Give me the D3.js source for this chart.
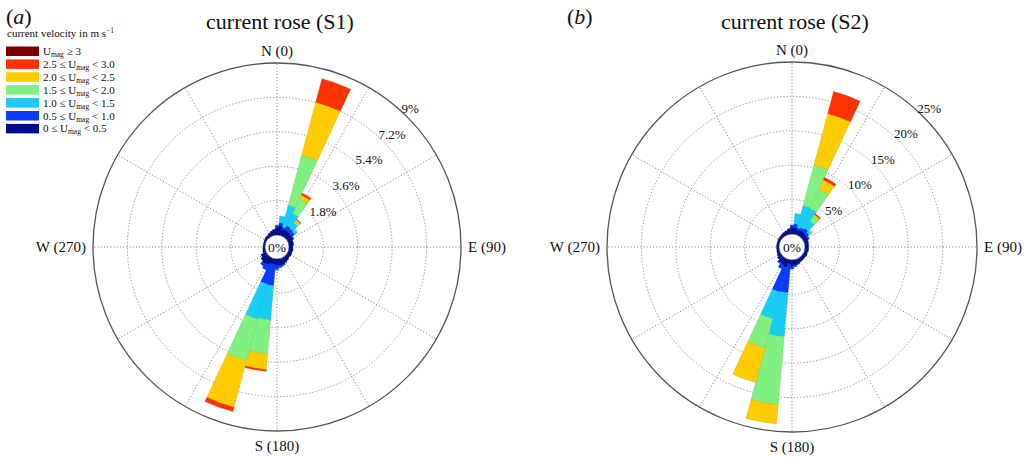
<!DOCTYPE html>
<html>
<head>
<meta charset="utf-8">
<script src="https://cdn.jsdelivr.net/npm/d3@7"></script>
<style>
  html, body { margin: 0; padding: 0; background: #fff; }
  svg { display: block; font-family: "Liberation Serif", "Times New Roman", serif; }
</style>
</head>
<body>
<svg id="chart" width="1030" height="457"></svg>
<script>
// Direction bins (degrees clockwise from north, 10-degree sectors)
const directions = d3.range(0, 360, 10);

// Speed classes, lowest first (stacked outward from the centre)
const classColors = ["#000a8c", "#0a3cff", "#1acdf5", "#80f080", "#ffcc00", "#ff3300", "#7a0000"];
const legendLabels = [
  ["", "U", "mag", " \u2265 3"],
  ["2.5 \u2264 ", "U", "mag", " < 3.0"],
  ["2.0 \u2264 ", "U", "mag", " < 2.5"],
  ["1.5 \u2264 ", "U", "mag", " < 2.0"],
  ["1.0 \u2264 ", "U", "mag", " < 1.5"],
  ["0.5 \u2264 ", "U", "mag", " < 1.0"],
  ["0 \u2264 ", "U", "mag", " < 0.5"]
];
const legendColors = ["#7a0000", "#ff3300", "#ffcc00", "#80f080", "#1acdf5", "#0a3cff", "#000a8c"];

// Frequency (%) per direction bin, one column per speed class
// [0-0.5, 0.5-1.0, 1.0-1.5, 1.5-2.0, 2.0-2.5, 2.5-3.0, >=3]
const freqS1 = [
  [0.40, 0.10, 0, 0, 0, 0, 0],          // 0
  [0.50, 0.15, 0.35, 0, 0, 0, 0],       // 10
  [0.35, 0.10, 1.20, 2.69, 2.88, 1.26, 0], // 20
  [0.35, 0.25, 0.70, 0.85, 0.23, 0.10, 0], // 30
  [0.35, 0.20, 0.35, 0.15, 0.07, 0.03, 0], // 40
  [0.30, 0.20, 0.15, 0.08, 0, 0, 0],    // 50
  [0.30, 0.05, 0, 0, 0, 0, 0],          // 60
  [0.25, 0, 0, 0, 0, 0, 0],             // 70
  [0.25, 0, 0, 0, 0, 0, 0],             // 80
  [0.20, 0, 0, 0, 0, 0, 0],             // 90
  [0.22, 0, 0, 0, 0, 0, 0],             // 100
  [0.20, 0, 0, 0, 0, 0, 0],             // 110
  [0.22, 0, 0, 0, 0, 0, 0],             // 120
  [0.20, 0, 0, 0, 0, 0, 0],             // 130
  [0.25, 0, 0, 0, 0, 0, 0],             // 140
  [0.30, 0, 0, 0, 0, 0, 0],             // 150
  [0.35, 0.05, 0, 0, 0, 0, 0],          // 160
  [0.35, 0.10, 0, 0, 0, 0, 0],          // 170
  [0.35, 0.20, 0.05, 0, 0, 0, 0],       // 180
  [0.30, 1.11, 1.80, 1.79, 0.82, 0.08, 0], // 190
  [0.30, 1.08, 1.89, 2.25, 2.54, 0.23, 0], // 200
  [0.40, 0.30, 0, 0, 0, 0, 0],          // 210
  [0.45, 0.15, 0, 0, 0, 0, 0],          // 220
  [0.40, 0, 0, 0, 0, 0, 0],             // 230
  [0.30, 0, 0, 0, 0, 0, 0],             // 240
  [0.15, 0, 0, 0, 0, 0, 0],             // 250
  [0.12, 0, 0, 0, 0, 0, 0],             // 260
  [0.10, 0, 0, 0, 0, 0, 0],             // 270
  [0.10, 0, 0, 0, 0, 0, 0],             // 280
  [0.10, 0, 0, 0, 0, 0, 0],             // 290
  [0.12, 0, 0, 0, 0, 0, 0],             // 300
  [0.15, 0, 0, 0, 0, 0, 0],             // 310
  [0.15, 0, 0, 0, 0, 0, 0],             // 320
  [0.20, 0, 0, 0, 0, 0, 0],             // 330
  [0.25, 0, 0, 0, 0, 0, 0],             // 340
  [0.30, 0, 0, 0, 0, 0, 0]              // 350
];

const freqS2 = [
  [1.00, 0.30, 0, 0, 0, 0, 0],          // 0
  [1.00, 0.50, 1.50, 0, 0, 0, 0],       // 10
  [0.70, 0.30, 3.40, 6.05, 7.75, 3.30, 0], // 20
  [0.80, 0.40, 3.10, 3.10, 1.50, 0.34, 0], // 30
  [0.80, 0.60, 1.30, 0.90, 0.25, 0.15, 0], // 40
  [0.70, 0.40, 0.40, 0.30, 0, 0, 0],    // 50
  [0.70, 0.20, 0, 0, 0, 0, 0],          // 60
  [0.60, 0, 0, 0, 0, 0, 0],             // 70
  [0.55, 0, 0, 0, 0, 0, 0],             // 80
  [0.50, 0, 0, 0, 0, 0, 0],             // 90
  [0.55, 0, 0, 0, 0, 0, 0],             // 100
  [0.50, 0, 0, 0, 0, 0, 0],             // 110
  [0.55, 0, 0, 0, 0, 0, 0],             // 120
  [0.50, 0, 0, 0, 0, 0, 0],             // 130
  [0.55, 0, 0, 0, 0, 0, 0],             // 140
  [0.60, 0, 0, 0, 0, 0, 0],             // 150
  [0.70, 0.10, 0, 0, 0, 0, 0],          // 160
  [0.80, 0.20, 0, 0, 0, 0, 0],          // 170
  [0.90, 0.40, 0, 0, 0, 0, 0],          // 180
  [0.60, 4.20, 6.40, 9.90, 2.80, 0, 0], // 190
  [1.20, 3.70, 4.00, 4.40, 5.20, 0, 0], // 200
  [1.00, 0.60, 0, 0, 0, 0, 0],          // 210
  [0.90, 0.20, 0, 0, 0, 0, 0],          // 220
  [0.70, 0, 0, 0, 0, 0, 0],             // 230
  [0.50, 0, 0, 0, 0, 0, 0],             // 240
  [0.40, 0, 0, 0, 0, 0, 0],             // 250
  [0.35, 0, 0, 0, 0, 0, 0],             // 260
  [0.35, 0, 0, 0, 0, 0, 0],             // 270
  [0.35, 0, 0, 0, 0, 0, 0],             // 280
  [0.35, 0, 0, 0, 0, 0, 0],             // 290
  [0.40, 0, 0, 0, 0, 0, 0],             // 300
  [0.40, 0, 0, 0, 0, 0, 0],             // 310
  [0.45, 0, 0, 0, 0, 0, 0],             // 320
  [0.50, 0, 0, 0, 0, 0, 0],             // 330
  [0.60, 0, 0, 0, 0, 0, 0],             // 340
  [0.80, 0, 0, 0, 0, 0, 0]              // 350
];

// Radial tick values and their labels
const ticksS1 = [1.8, 3.6, 5.4, 7.2, 9];
const tickLabelsS1 = ["1.8%", "3.6%", "5.4%", "7.2%", "9%"];
const ticksS2 = [5, 10, 15, 20, 25];
const tickLabelsS2 = ["5%", "10%", "15%", "20%", "25%"];

const compassLabels = ["N (0)", "E (90)", "S (180)", "W (270)"];

const svg = d3.select("#chart");
const rad = d => d * Math.PI / 180;

function drawRose(opts) {
  const { cx, cy, R, r0, ticks, tickLabels, freq, title, tag, tagX } = opts;
  const g = svg.append("g").attr("transform", `translate(${cx},${cy})`);
  const r = d3.scaleLinear().domain([0, d3.max(ticks)]).range([r0, R]);

  // dotted rings
  g.selectAll("circle.ring")
    .data(ticks.slice(0, -1))
    .join("circle")
    .attr("r", d => r(d))
    .attr("fill", "none")
    .attr("stroke", "#8a8a8a")
    .attr("stroke-width", 1)
    .attr("stroke-dasharray", "1.2,2");

  // dotted spokes every 30 degrees
  g.selectAll("line.spoke")
    .data(d3.range(0, 360, 30))
    .join("line")
    .attr("x1", d => r0 * Math.sin(rad(d)))
    .attr("y1", d => -r0 * Math.cos(rad(d)))
    .attr("x2", d => R * Math.sin(rad(d)))
    .attr("y2", d => -R * Math.cos(rad(d)))
    .attr("stroke", "#8a8a8a")
    .attr("stroke-width", 1)
    .attr("stroke-dasharray", "1.2,2");

  // outer circle
  g.append("circle")
    .attr("r", R)
    .attr("fill", "none")
    .attr("stroke", "#555")
    .attr("stroke-width", 1.3);

  // stacked sectors
  const arc = d3.arc();
  const segs = [];
  directions.forEach((dir, i) => {
    let cum = 0;
    freq[i].forEach((v, k) => {
      if (v > 0) {
        segs.push({ dir, k, a: cum, b: cum + v });
      }
      cum += v;
    });
  });
  g.selectAll("path.seg")
    .data(segs)
    .join("path")
    .attr("d", s => arc({
      innerRadius: r(s.a),
      outerRadius: r(s.b),
      startAngle: rad(s.dir - 5),
      endAngle: rad(s.dir + 5)
    }))
    .attr("fill", s => classColors[s.k])
    .attr("stroke", s => d3.color(classColors[s.k]).darker(0.5))
    .attr("stroke-width", 0.4);

  // centre hole
  g.append("circle")
    .attr("r", r0)
    .attr("fill", "#fff")
    .attr("stroke", "#33335a")
    .attr("stroke-width", 0.6);
  g.append("text")
    .attr("text-anchor", "middle")
    .attr("dominant-baseline", "central")
    .attr("font-size", 13.5)
    .attr("fill", "#111")
    .text("0%");

  // ring labels along the 42 degree bearing
  const lb = rad(42);
  g.selectAll("text.tick")
    .data(ticks)
    .join("text")
    .attr("x", d => (r(d) + 2) * Math.sin(lb))
    .attr("y", d => -(r(d) + 2) * Math.cos(lb))
    .attr("dominant-baseline", "central")
    .attr("font-size", 13)
    .attr("fill", "#111")
    .text((d, i) => tickLabels[i]);

  // compass labels
  const cfont = 15;
  g.append("text").attr("x", 0).attr("y", -R - 7)
    .attr("text-anchor", "middle").attr("font-size", cfont).attr("fill", "#111")
    .text(compassLabels[0]);
  g.append("text").attr("x", R + 7).attr("y", 0)
    .attr("text-anchor", "start").attr("dominant-baseline", "central")
    .attr("font-size", cfont).attr("fill", "#111")
    .text(compassLabels[1]);
  g.append("text").attr("x", 0).attr("y", R + 20)
    .attr("text-anchor", "middle").attr("font-size", cfont).attr("fill", "#111")
    .text(compassLabels[2]);
  g.append("text").attr("x", -R - 7).attr("y", 0)
    .attr("text-anchor", "end").attr("dominant-baseline", "central")
    .attr("font-size", cfont).attr("fill", "#111")
    .text(compassLabels[3]);

  // title and panel tag
  svg.append("text")
    .attr("x", cx + 3).attr("y", 29)
    .attr("text-anchor", "middle")
    .attr("font-size", 22)
    .attr("fill", "#111")
    .text(title);
  svg.append("text")
    .attr("x", tagX).attr("y", 24)
    .attr("font-size", 22)
    .attr("fill", "#111")
    .html(`(<tspan font-style="italic">${tag}</tspan>)`);
}

drawRose({ cx: 277, cy: 247, R: 184, r0: 12, ticks: ticksS1, tickLabels: tickLabelsS1,
  freq: freqS1, title: "current rose (S1)", tag: "a", tagX: 6 });
drawRose({ cx: 792, cy: 247, R: 185, r0: 13, ticks: ticksS2, tickLabels: tickLabelsS2,
  freq: freqS2, title: "current rose (S2)", tag: "b", tagX: 567 });

// legend
const lg = svg.append("g");
lg.append("text")
  .attr("x", 7).attr("y", 37)
  .attr("font-size", 11)
  .attr("fill", "#111")
  .html('current velocity in m s<tspan dy="-4" font-size="7.5">\u22121</tspan>');
legendLabels.forEach((parts, i) => {
  const y = 46.5 + i * 12.9;
  lg.append("rect")
    .attr("x", 6).attr("y", y)
    .attr("width", 33).attr("height", 9.5)
    .attr("fill", legendColors[i]);
  const t = lg.append("text")
    .attr("x", 43).attr("y", y + 8.5)
    .attr("font-size", 11)
    .attr("fill", "#111");
  t.append("tspan").text(parts[0]);
  t.append("tspan").text(parts[1]);
  t.append("tspan").attr("dy", 2).attr("font-size", 7.5).text(parts[2]);
  t.append("tspan").attr("dy", -2).text(parts[3]);
});
</script>
</body>
</html>
